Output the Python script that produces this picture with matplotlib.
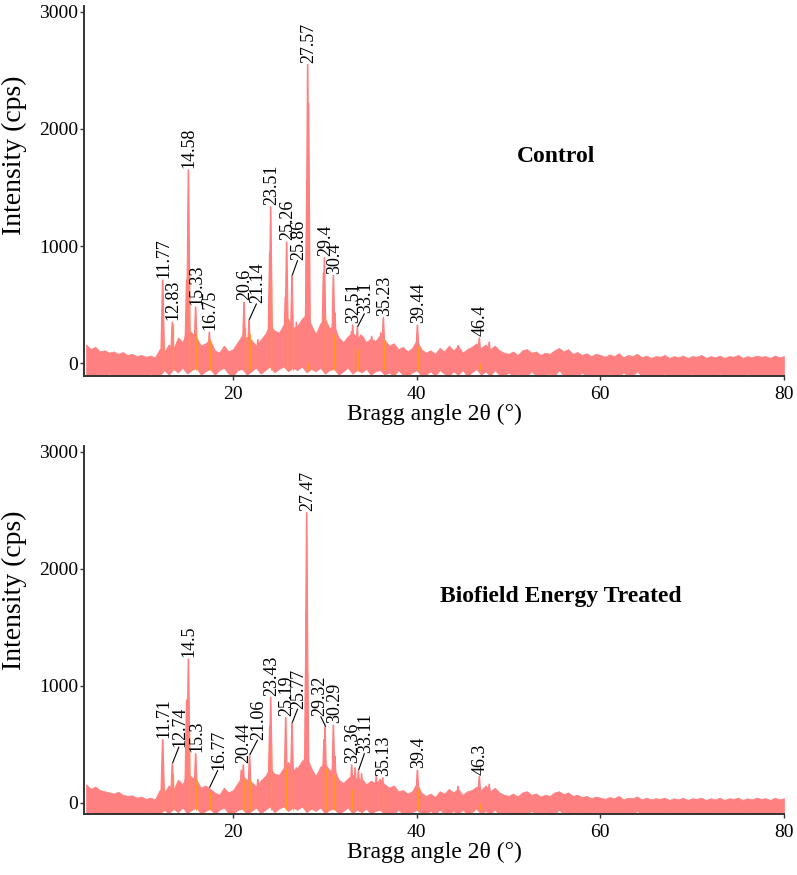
import numpy as np
import matplotlib.pyplot as plt

plt.rcParams['font.family'] = ['Liberation Serif', 'DejaVu Serif']

# noise band envelope, one value per half degree from 4 to 80
grid = np.arange(4, 80.25, 0.5)
ctrl_hi = [160, 120, 140, 100, 110, 90, 100, 80, 95, 70,
           80, 60, 70, 55, 65, 50, 120, 100, 160, 120,
           220, 180, 300, 260, 220, 150, 170, 200, 110, 90,
           150, 100, 120, 180, 240, 220, 200, 150, 200, 250,
           330, 280, 260, 330, 380, 300, 320, 380, 420, 330,
           250, 340, 380, 300, 320, 220, 180, 230, 260, 220,
           240, 180, 210, 190, 240, 200, 150, 170, 120, 140,
           100, 130, 200, 120, 90, 110, 80, 130, 100, 150,
           110, 150, 90, 120, 140, 170, 130, 160, 120, 150,
           110, 90, 80, 100, 70, 110, 120, 90, 100, 70,
           90, 80, 110, 130, 100, 120, 80, 95, 70, 85,
           60, 80, 70, 55, 75, 60, 85, 50, 70, 60,
           80, 50, 65, 45, 60, 55, 70, 45, 60, 50,
           65, 45, 60, 55, 70, 45, 60, 50, 65, 45,
           60, 55, 70, 45, 60, 50, 65, 55, 60, 45,
           65, 50, 60]
ctrl_lo = [-110, -110, -100, -110, -110, -90, -110, -110, -100, -110,
           -110, -100, -110, -110, -90, -110, -110, -60, -100, -50,
           -80, -40, -90, -60, -40, -100, -70, -50, -100, -60,
           -40, -90, -110, -60, -50, -100, -70, -40, -90, -60,
           -30, -80, -50, -30, -70, -40, -60, -30, -80, -50,
           -70, -40, -90, -60, -50, -100, -70, -40, -90, -60,
           -80, -50, -100, -70, -60, -100, -80, -110, -60, -100,
           -110, -80, -60, -110, -100, -70, -110, -60, -90, -110,
           -70, -100, -60, -110, -80, -50, -100, -70, -110, -60,
           -100, -110, -80, -110, -90, -110, -110, -70, -110, -100,
           -110, -90, -110, -60, -110, -100, -110, -110, -80, -110,
           -110, -100, -110, -110, -90, -110, -110, -80, -110, -110,
           -70, -110, -110, -100, -110, -110, -90, -110, -110, -100,
           -110, -110, -90, -110, -110, -100, -110, -110, -90, -110,
           -110, -100, -110, -110, -90, -110, -110, -100, -110, -110,
           -100, -110, -110]
bio_hi = [160, 120, 140, 110, 100, 90, 80, 95, 70, 60,
          65, 45, 55, 35, 45, 30, 110, 90, 150, 110,
          200, 160, 260, 220, 200, 130, 150, 120, 90, 70,
          130, 90, 110, 170, 230, 200, 180, 140, 190, 230,
          300, 250, 240, 300, 350, 280, 300, 360, 400, 300,
          230, 310, 340, 280, 290, 200, 170, 210, 240, 200,
          210, 160, 190, 170, 200, 160, 130, 150, 100, 110,
          80, 100, 170, 90, 60, 80, 50, 100, 80, 120,
          90, 120, 70, 100, 110, 140, 110, 150, 100, 130,
          90, 70, 60, 80, 55, 90, 100, 70, 80, 55,
          70, 60, 90, 100, 75, 90, 60, 70, 50, 60,
          40, 55, 45, 35, 50, 40, 60, 30, 45, 40,
          55, 30, 45, 30, 40, 35, 45, 25, 40, 30,
          45, 25, 40, 35, 45, 25, 40, 30, 45, 25,
          40, 35, 45, 25, 40, 30, 45, 35, 40, 25,
          45, 30, 40]
bio_lo = [-95, -95, -90, -95, -95, -80, -95, -95, -90, -95,
          -95, -90, -95, -95, -80, -95, -95, -60, -90, -50,
          -80, -40, -90, -60, -40, -95, -70, -50, -95, -60,
          -40, -90, -95, -60, -50, -95, -70, -40, -90, -60,
          -30, -80, -50, -30, -70, -40, -60, -30, -80, -50,
          -70, -40, -90, -60, -50, -95, -70, -40, -90, -60,
          -80, -50, -95, -70, -60, -95, -80, -95, -60, -95,
          -95, -80, -60, -95, -95, -70, -95, -60, -90, -95,
          -70, -95, -60, -95, -80, -50, -95, -70, -95, -60,
          -95, -95, -80, -95, -90, -95, -95, -70, -95, -95,
          -95, -90, -95, -60, -95, -95, -95, -95, -80, -95,
          -95, -90, -95, -95, -80, -95, -95, -80, -95, -95,
          -70, -95, -95, -90, -95, -95, -80, -95, -95, -90,
          -95, -95, -80, -95, -95, -90, -95, -95, -80, -95,
          -95, -90, -95, -95, -80, -95, -95, -90, -95, -95,
          -90, -95, -95]

# labelled peaks: label text, plotted angle, height (cps)
ctrl_labels = ['11.77', '12.83', '14.58', '15.33', '16.75', '20.6', '21.14', '23.51', '25.26',
               '25.86', '27.57', '29.4', '30.4', '32.51', '33.1', '35.23', '39.44', '46.4']
ctrl_pos = [12.34, 13.39, 15.14, 15.93, 17.42, 21.20, 21.74, 24.10, 25.84, 26.42, 28.13,
            29.95, 30.93, 33.03, 33.54, 36.37, 40.08, 46.82]
ctrl_h = [710, 350, 1650, 480, 265, 520, 370, 1335, 1035, 750, 2550, 900, 750, 325, 310,
          390, 325, 215]
ctrl_orange = [200, 330, 800, 250, 200, 300, 250, 700, 400, 300, 0, 400, 250, 150, 120,
               200, 150, 0]

bio_labels = ['11.71', '12.74', '14.5', '15.3', '16.77', '20.44', '21.06', '23.43', '25.19',
              '25.77', '27.47', '29.32', '30.29', '32.36', '33.11', '35.13', '39.4', '46.3']
bio_pos = [12.34, 13.39, 15.14, 15.93, 17.42, 21.12, 21.80, 24.10, 25.74, 26.42, 28.02,
           30.02, 30.93, 32.92, 33.65, 36.30, 40.08, 46.82]
bio_h = [540, 340, 1230, 420, 130, 325, 410, 900, 730, 685, 2480, 650, 665, 325, 280, 215,
         280, 225]
bio_orange = [150, 250, 600, 200, 100, 200, 200, 500, 300, 250, 0, 300, 250, 120, 100, 100,
              120, 0]

# smaller unlabelled reflections
ctrl_minor_pos = [14.95, 19.13, 22.7, 23.6, 24.0, 25.7, 26.9, 28.05, 28.22, 29.85, 31.1,
                  32.9, 33.9, 35.1, 36.1, 37.5, 44.5, 47.9]
ctrl_minor_h = [710, 130, 200, 150, 950, 565, 350, 1565, 2220, 770, 430, 270, 240, 230,
                260, 160, 150, 180]
bio_minor_pos = [14.95, 19.1, 20.9, 22.7, 24.0, 26.9, 27.98, 28.1, 29.9, 31.1, 33.3, 34.0,
                 35.6, 36.0, 44.5, 47.9]
bio_minor_h = [880, 120, 280, 200, 650, 300, 1650, 1100, 540, 400, 300, 250, 230, 200, 140,
               160]

# label shifts (degrees, cps) for labels set off with a leader line
ctrl_shift = {'21.14': (0.95, 140), '25.86': (0.75, 130), '33.1': (0.9, 115)}
bio_shift = {'12.74': (0.85, 140), '16.77': (1.05, 150), '21.06': (1.0, 130),
             '25.77': (0.75, 120), '29.32': (-0.6, 90), '33.11': (0.8, 145)}

pink = '#ff8080'
orange = '#ff9a1a'

fig = plt.figure(figsize=(7.97, 8.75), dpi=100)
ax1 = fig.add_axes([84 / 797, 1 - 376 / 875, 700 / 797, 370 / 875])
ax2 = fig.add_axes([84 / 797, 1 - 814 / 875, 700 / 797, 368 / 875])

panels = [
    (ax1, ctrl_hi, ctrl_lo, ctrl_labels, ctrl_pos, ctrl_h, ctrl_orange, ctrl_minor_pos,
     ctrl_minor_h, ctrl_shift, 'Control', -110, (0.674, 0.592)),
    (ax2, bio_hi, bio_lo, bio_labels, bio_pos, bio_h, bio_orange, bio_minor_pos,
     bio_minor_h, bio_shift, 'Biofield Energy Treated', -95, (0.681, 0.590)),
]

for ax, hi, lo, labels, pos, h, org, mpos, mh, shift, title, ybot, tpos in panels:
    ax.fill_between(grid, lo, hi, color=pink, lw=0.5, zorder=1)
    # peaks drawn as narrow spikes on the background
    for x, y in list(zip(pos, h)) + list(zip(mpos, mh)):
        ax.fill([x - 0.22, x - 0.03, x + 0.03, x + 0.22], [0, y, y, 0], color=pink, lw=0.8,
                zorder=2)
    ax.vlines(np.array(pos) + 0.08, -60, org, color=orange, lw=0.9, zorder=3)

    for lab, x, y in zip(labels, pos, h):
        if lab in shift:
            dx, dy = shift[lab]
            tx, ty = x + dx, y + dy
            ax.plot([x + 0.05, tx - 0.15 * np.sign(dx)], [y + 5, ty - 5], color='black',
                    lw=0.8, zorder=4)
        else:
            tx, ty = x + 0.1, y + 15
        ax.text(tx, ty, lab, rotation=90, ha='center', va='bottom', fontsize=13, zorder=5)

    ax.text(tpos[0], tpos[1], title, transform=ax.transAxes, ha='center', va='center',
            fontsize=17, fontweight='bold')

    ax.set_xlim(3.77, 80)
    ax.set_ylim(ybot, 3050)
    ax.set_xticks([20, 40, 60, 80])
    ax.set_yticks([0, 1000, 2000, 3000])
    for s in ['top', 'right']:
        ax.spines[s].set_visible(False)
    for s in ['left', 'bottom']:
        ax.spines[s].set_color('#333333')
        ax.spines[s].set_linewidth(1.4)
    ax.tick_params(direction='out', length=3, width=1, labelsize=14, pad=1,
                   color='#333333')
    ax.tick_params(axis='x', pad=4)
    ax.set_xlabel('Bragg angle 2θ (°)', fontsize=17, labelpad=1)
    ax.set_ylabel('Intensity (cps)', fontsize=20)

ax1.yaxis.set_label_coords(-0.082, 0.597)
ax2.yaxis.set_label_coords(-0.082, 0.609)

fig.savefig('out.png', dpi=100)
